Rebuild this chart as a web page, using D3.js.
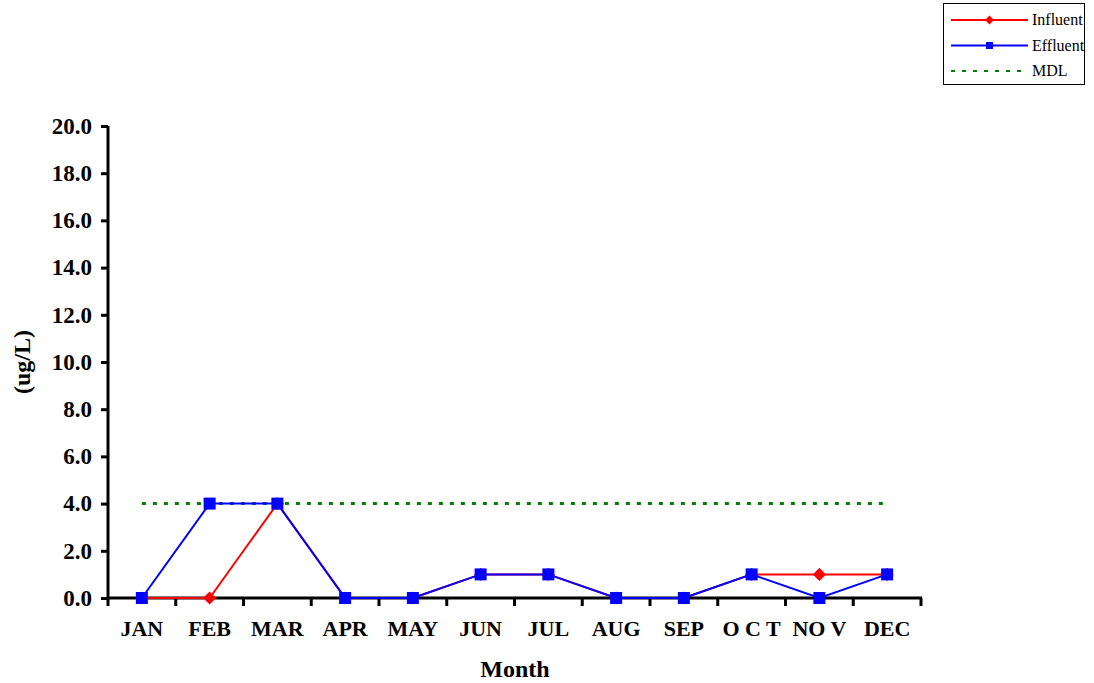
<!DOCTYPE html>
<html><head><meta charset="utf-8">
<script src="https://cdn.jsdelivr.net/npm/d3@7"></script>
<style>body{margin:0;background:#fff;} svg{display:block;}</style>
</head><body>
<svg id="c" width="1094" height="683"></svg>
<script>
const months = ["JAN","FEB","MAR","APR","MAY","JUN","JUL","AUG","SEP","O C T","NO V","DEC"];
const influent = [0,0,4,0,0,1,1,0,0,1,1,1];
const effluent = [0,4,4,0,0,1,1,0,0,1,0,1];
const mdl = [4,4,4,4,4,4,4,4,4,4,4,4];
const yTicks = [0,2,4,6,8,10,12,14,16,18,20];

const svg = d3.select("#c");
const font = "'Liberation Serif','Times New Roman',serif";
const L = 108, R = 921, T = 126, B = 598;
const x = d3.scaleBand().domain(d3.range(12)).range([L, R]);
const cx = i => x(i) + x.bandwidth()/2;
const y = d3.scaleLinear().domain([0,20]).range([B, T]);

// y axis
const ya = svg.append("g").attr("transform", `translate(${L},0)`)
  .call(d3.axisLeft(y).tickValues(yTicks).tickFormat(d3.format(".1f")).tickSize(7).tickPadding(9));
ya.select(".domain").attr("stroke","#000").attr("stroke-width",3).attr("d",`M0,${T}V${B+2}`);
ya.selectAll(".tick line").attr("stroke","#000").attr("stroke-width",3);
ya.selectAll("text").attr("font-family",font).attr("font-weight","bold").attr("font-size",23).attr("fill","#000");

// x axis
const xa = svg.append("g").attr("transform", `translate(0,${B})`);
xa.append("line").attr("x1",L-1).attr("x2",R+1).attr("y1",0).attr("y2",0).attr("stroke","#000").attr("stroke-width",3);
xa.selectAll("line.t").data(d3.range(13)).join("line").attr("class","t")
  .attr("x1",i=> i<12 ? x(i) : R).attr("x2",i=> i<12 ? x(i) : R)
  .attr("y1",0).attr("y2",8).attr("stroke","#000").attr("stroke-width",3);
xa.selectAll("text").data(months).join("text")
  .attr("x",(d,i)=>cx(i)).attr("y",38).attr("text-anchor","middle")
  .attr("font-family",font).attr("font-weight","bold").attr("font-size",22).text(d=>d);

// axis titles
svg.append("text").attr("transform",`translate(30,${(T+B)/2}) rotate(-90)`).attr("text-anchor","middle")
  .attr("font-family",font).attr("font-weight","bold").attr("font-size",24).text("(ug/L)");
svg.append("text").attr("x",515).attr("y",677).attr("text-anchor","middle")
  .attr("font-family",font).attr("font-weight","bold").attr("font-size",24).text("Month");

// MDL
const line = d3.line().x((d,i)=>cx(i)).y(d=>y(d));
svg.append("path").datum(mdl).attr("d",line).attr("fill","none").attr("stroke","#008000")
  .attr("stroke-width",3).attr("stroke-dasharray","4,7");

// Influent
svg.append("path").datum(influent).attr("d",line).attr("fill","none").attr("stroke","#ff0000").attr("stroke-width",2);
const diamond = d3.symbol().type(d3.symbolDiamond2).size(110);
svg.selectAll("path.inf").data(influent).join("path").attr("class","inf")
  .attr("transform",(d,i)=>`translate(${cx(i)},${y(d)})`).attr("d",diamond).attr("fill","#ff0000");

// Effluent
svg.append("path").datum(effluent).attr("d",line).attr("fill","none").attr("stroke","#0000ff").attr("stroke-width",2);
svg.selectAll("rect.eff").data(effluent).join("rect").attr("class","eff")
  .attr("x",(d,i)=>cx(i)-6).attr("y",d=>y(d)-6).attr("width",12).attr("height",12).attr("fill","#0000ff");

// legend
const lg = svg.append("g");
lg.append("rect").attr("x",943.5).attr("y",3.5).attr("width",141).attr("height",81).attr("fill","#fff").attr("stroke","#000").attr("stroke-width",1);
const items = [{n:"Influent",c:"#ff0000",t:"d"},{n:"Effluent",c:"#0000ff",t:"s"},{n:"MDL",c:"#008000",t:"m"}];
items.forEach((it,k)=>{
  const yy = 20 + k*25.5;
  const ln = lg.append("line").attr("x1",951).attr("x2",1028).attr("y1",yy).attr("y2",yy).attr("stroke",it.c);
  if(it.t==="m") ln.attr("stroke-width",2).attr("stroke-dasharray","4,7");
  else ln.attr("stroke-width",2);
  if(it.t==="d") lg.append("path").attr("transform",`translate(989.5,${yy})`).attr("d",d3.symbol().type(d3.symbolDiamond2).size(50)).attr("fill",it.c);
  if(it.t==="s") lg.append("rect").attr("x",986).attr("y",yy-3.5).attr("width",7).attr("height",7).attr("fill",it.c);
  lg.append("text").attr("x",1032).attr("y",yy+5).attr("font-family",font).attr("font-size",16).text(it.n);
});
</script>
</body></html>
